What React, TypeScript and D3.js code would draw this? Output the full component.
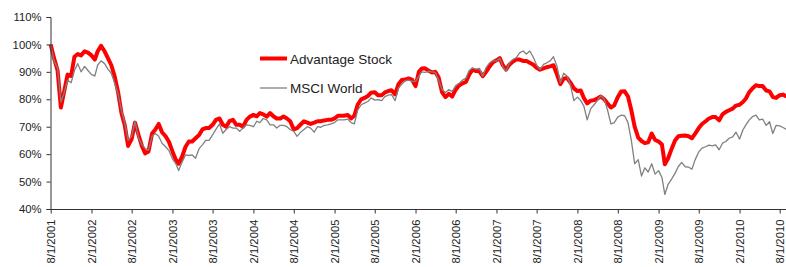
import * as d3 from 'd3';
import { useRef, useEffect } from 'react';

// semi-monthly readings (1st and 16th of each month) starting 8/1/2001
const startDate = '2001-08-01';
const seriesNames = ['Advantage Stock', 'MSCI World'];

const advantageStock = [
  100, 95, 90.5, 77, 83, 89, 88.5, 95.5, 96.5, 96,
  97.5, 97, 96, 94.5, 97.5, 99.5, 97.5, 95, 92.5, 88.5,
  82.5, 75, 70.5, 63, 65.5, 71.5, 67, 63, 60.3, 61,
  67.5, 69, 71, 68, 66.5, 64.5, 61, 58, 56.5, 59,
  62.7, 64.6, 64.6, 65.8, 67, 69, 69.5, 69.5, 70.7, 72.5,
  73, 70.7, 70, 72, 72.5, 70.7, 70.7, 70, 72.5, 73.7,
  74.3, 73.8, 75, 74.5, 73.7, 75, 73.8, 73, 73, 73.7,
  73, 72, 69, 69.5, 70.8, 72, 71.5, 71, 71.5, 72,
  72, 72.3, 72.5, 72.5, 73, 74, 74, 74, 74.3, 73,
  74, 78, 80, 80.5, 81.2, 82.4, 82.6, 81.5, 81.5, 82.5,
  83, 83.3, 81.8, 85.5, 87, 87.2, 87.6, 87.2, 84.8, 90,
  91.2, 91.3, 90.4, 89.8, 90, 88, 82.5, 80.8, 82, 81,
  83.5, 85, 85.8, 86.3, 89, 90.8, 90.3, 90.2, 88.4, 90,
  92, 93.5, 94.2, 95, 92.5, 90.8, 92.7, 93.8, 94.5, 94.5,
  94, 94, 93.3, 92.7, 91.5, 90.8, 91.3, 91.7, 92, 92.4,
  89, 85.5, 87.5, 87.8, 86, 84, 83, 83.2, 80.5, 78.5,
  79.5, 79.7, 80.3, 81, 80, 78.5, 77, 77.8, 80.8, 82.8,
  82.9, 81, 76, 70, 66, 64.8, 64, 64.3, 67.5, 65.2,
  64.6, 63.5, 56.3, 58.5, 62, 65, 66.5, 66.7, 66.8, 66.5,
  65.8, 67.5, 69.5, 71, 72, 73, 73.5, 73.5, 72.3, 74.5,
  75.4, 76, 76.6, 77.7, 78, 79, 80.2, 82.5, 84, 85.1,
  84.8, 84.8, 83.2, 82.9, 80.8, 80.5, 81.5, 81.7, 81,
];

const msciWorld = [
  100, 94, 91.3, 79, 82.5, 87, 86, 90.5, 93, 90,
  92, 90.5, 89, 88.5, 92.5, 94, 93, 91, 89.5, 86,
  82, 76, 71.3, 65, 66.5, 71.9, 66, 63.5, 62, 61.5,
  66.5, 67.5, 66.5, 64, 62.7, 61.3, 58.3, 56.5, 54, 57,
  59.7, 59.5, 59.7, 58.5, 62, 63.4, 65, 65, 67, 69,
  71, 67.6, 69, 70, 69.5, 69.5, 68.3, 69.5, 70.7, 70.5,
  70, 72, 71.5, 73, 72.5, 70.7, 70.7, 69.5, 70.5, 70.5,
  70, 69, 68.3, 66.5, 68, 69, 70, 69.5, 68, 70,
  69.8, 70.5, 70.7, 71, 71.5, 72.5, 72.5, 72.5, 72.8, 71.5,
  71, 76, 78, 78.6, 79.2, 80.5, 79.7, 79.9, 79.5, 81,
  81.5, 81.7, 79.5, 84, 85.5, 86.8, 87, 86.5, 86.5, 88.4,
  90, 89.8, 90.2, 90, 89.8, 87, 83.5, 82.5, 83.5, 82.8,
  85, 85.8, 87, 87.7, 90.5, 91.4, 91, 91.3, 88.4, 91.5,
  93.3, 94, 94, 95, 92, 90.2, 93.3, 94.5, 95.1, 96.9,
  97.6, 96.5, 97.6, 95.5, 92.5, 90.8, 92.7, 93.3, 94, 95.5,
  92, 86, 89.5, 88.5, 85, 79.5, 80.8, 79.5, 77.5, 72.5,
  76.6, 78, 79.5, 81.3, 80, 76, 71, 71.5, 73.5, 74.2,
  74, 71.5, 65, 56.5, 58, 52, 55, 53.5, 56.5, 52.7,
  54, 51.5, 45.3, 49, 51, 53, 55.5, 57, 55.4, 55.3,
  54.5, 58, 60.8, 62.2, 62.7, 63.3, 63, 63.4, 61.6, 64,
  64.6, 65.8, 66.3, 68, 65.5, 68.8, 70.6, 72.4, 73.7, 74.2,
  72.5, 72.8, 70.5, 71.8, 67.5, 70.5, 70.3, 69.7, 69,
];

const yTicks = [40, 50, 60, 70, 80, 90, 100, 110];
const xTickStart = '2001-08-01';
const xTickEnd = '2010-08-01';

const FONT = 'Arial, "Liberation Sans", sans-serif';

function PerformanceChart({ width = 786, height = 267 }) {
  const svgRef = useRef(null);

  useEffect(() => {
    const svg = d3.select(svgRef.current)
      .attr('width', width)
      .attr('height', height);
    svg.selectAll('*').remove();

    const parse = d3.utcParse('%Y-%m-%d');
    const t0 = parse(startDate);
    const dates = advantageStock.map((_, i) =>
      d3.utcDay.offset(d3.utcMonth.offset(t0, Math.floor(i / 2)), (i % 2) * 15));

    const left = 50.5, top = 17, bottom = 209;

    // Scales
    const x = d3.scaleUtc()
      .domain([parse(xTickStart), parse(xTickEnd)])
      .range([50.7, 779.7]);
    const y = d3.scaleLinear()
      .domain([40, 110])
      .range([bottom, top]);

    const xTicks = d3.utcMonth.range(parse(xTickStart), d3.utcDay.offset(parse(xTickEnd), 1), 6);
    const fmt = d3.utcFormat('%-m/%-d/%Y');

    // Lines
    const line = d3.line()
      .x((d) => x(d[0]))
      .y((d) => y(d[1]));

    const g = svg.append('g');
    g.append('path')
      .datum(dates.map((d, i) => [d, advantageStock[i]]))
      .attr('fill', 'none')
      .attr('stroke', '#ff0000')
      .attr('stroke-width', 4)
      .attr('stroke-linejoin', 'round')
      .attr('d', line);
    g.append('path')
      .datum(dates.map((d, i) => [d, msciWorld[i]]))
      .attr('fill', 'none')
      .attr('stroke', '#808080')
      .attr('stroke-width', 1.3)
      .attr('stroke-linejoin', 'round')
      .attr('d', line);

    // Y axis
    const yAxis = svg.append('g')
      .attr('transform', `translate(${left},0)`)
      .call(d3.axisLeft(y).tickValues(yTicks).tickSize(4).tickPadding(5).tickFormat((d) => `${d}%`));
    yAxis.select('.domain').attr('stroke', '#333');
    yAxis.selectAll('.tick line').attr('stroke', '#333');
    yAxis.selectAll('text')
      .attr('font-family', FONT)
      .attr('font-size', 11.3)
      .attr('fill', '#222');

    // X axis
    const xAxis = svg.append('g')
      .attr('transform', `translate(0,${bottom + 0.5})`)
      .call(d3.axisBottom(x).tickValues(xTicks).tickSize(4).tickSizeOuter(0).tickFormat(fmt));
    xAxis.select('.domain')
      .attr('stroke', '#333')
      .attr('d', `M${left},0H${width}`);
    xAxis.selectAll('.tick line').attr('stroke', '#333');
    xAxis.selectAll('text')
      .attr('font-family', FONT)
      .attr('font-size', 11.3)
      .attr('fill', '#222')
      .attr('text-anchor', 'end')
      .attr('dy', '0.35em')
      .attr('y', 0)
      .attr('transform', 'translate(0,10) rotate(-90)');

    // Legend
    const legend = svg.append('g');
    const colors = ['#ff0000', '#808080'];
    const widths = [4, 1.3];
    seriesNames.forEach((name, i) => {
      const ly = 58.5 + i * 29.5;
      legend.append('line')
        .attr('x1', 260).attr('x2', 287)
        .attr('y1', ly).attr('y2', ly)
        .attr('stroke', colors[i])
        .attr('stroke-width', widths[i]);
      legend.append('text')
        .attr('x', 290)
        .attr('y', ly + 5)
        .attr('font-family', FONT)
        .attr('font-size', 13.5)
        .attr('fill', '#222')
        .text(name);
    });
  }, [width, height]);

  return <svg ref={svgRef} style={{ position: 'absolute', left: 0, top: 0 }}></svg>;
}

export default function App() {
  return <PerformanceChart />;
}
